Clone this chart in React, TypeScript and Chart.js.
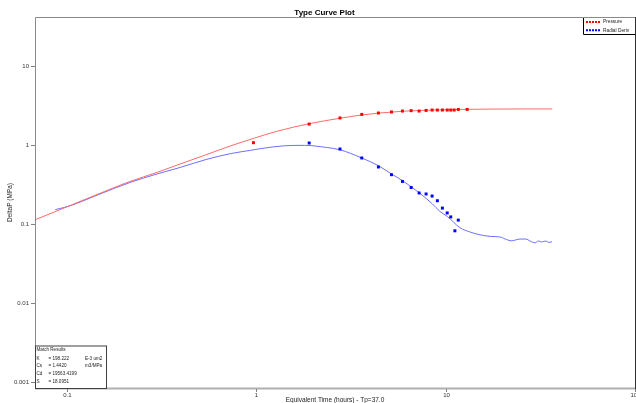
import { useEffect, useRef } from 'react';
import { Chart, registerables } from 'chart.js';

Chart.register(...registerables);

// ---- data ----
const pressureCurveX = [0.068, 0.104, 0.15, 0.216, 0.3, 0.397, 0.55, 0.729, 0.976, 1.3, 1.905, 2.77, 3.61, 4.42, 5.2, 6.0, 7.25, 8.5, 10.2, 13, 18, 25, 36.6];
const pressureCurveY = [0.113, 0.171, 0.245, 0.346, 0.45, 0.575, 0.76, 0.97, 1.22, 1.5, 1.86, 2.18, 2.4, 2.53, 2.61, 2.68, 2.73, 2.77, 2.8, 2.83, 2.85, 2.86, 2.86];

const derivCurveX = [0.087, 0.104, 0.15, 0.216, 0.3, 0.397, 0.55, 0.729, 0.93, 1.05, 1.39, 1.8, 2.36, 2.77, 3.61, 4.42, 5.18, 5.92, 7.25, 8.49, 9.34, 10.2, 11.9, 13.5, 15.2, 17.2, 19.4, 21.0, 22.3, 24.7, 26.6, 27.9, 29.7, 30.9, 32.2, 33.8, 35.1, 36.5];
const derivCurveY = [0.152, 0.17, 0.24, 0.336, 0.43, 0.52, 0.66, 0.776, 0.855, 0.898, 0.975, 0.99, 0.93, 0.87, 0.685, 0.547, 0.43, 0.354, 0.249, 0.181, 0.144, 0.125, 0.09, 0.079, 0.073, 0.0697, 0.0685, 0.0635, 0.0613, 0.0645, 0.0645, 0.0609, 0.0579, 0.061, 0.0592, 0.061, 0.0585, 0.0597];

const pressureDataX = [0.968, 1.905, 2.77, 3.61, 4.42, 5.18, 5.92, 6.58, 7.25, 7.89, 8.49, 9.05, 9.62, 10.2, 10.65, 11.1, 11.67, 13.0];
const pressureDataY = [1.07, 1.84, 2.2, 2.44, 2.54, 2.62, 2.69, 2.72, 2.69, 2.74, 2.77, 2.77, 2.77, 2.77, 2.77, 2.77, 2.82, 2.82];

const derivDataX = [1.905, 2.77, 3.61, 4.42, 5.18, 5.92, 6.58, 7.25, 7.89, 8.49, 9.05, 9.62, 10.2, 10.65, 11.67, 11.2];
const derivDataY = [1.06, 0.89, 0.685, 0.527, 0.421, 0.346, 0.29, 0.247, 0.24, 0.226, 0.197, 0.159, 0.138, 0.123, 0.112, 0.082];

const xTickValues = [0.1, 1, 10, 100];
const xTickLabels = ['0.1', '1', '10', '100'];
const yTickValues = [0.001, 0.01, 0.1, 1, 10];
const yTickLabels = ['0.001', '0.01', '0.1', '1', '10'];

const titleText = 'Type Curve Plot';
const xTitle = 'Equivalent Time (hours) - Tp=37.0';
const yTitle = 'DeltaP (MPa)';
const legendLabels = ['Pressure', 'Radial Deriv'];
const legendColors = ['#ff0000', '#0000ff'];
const matchTitle = 'Match Results';
const matchNames = ['K', 'Cs', 'Cd', 'S'];
const matchValues = ['= 198.222', '= 1.4420', '= 19563.4199', '= 18.0951'];
const matchUnits = ['E-3 um2', 'm3/MPa', '', ''];

const FONT = '"Liberation Sans", Arial, sans-serif';

const toXY = (xs: number[], ys: number[]) => xs.map((x, i) => ({ x, y: ys[i] }));

const decorPlugin = {
  id: 'decor',
  afterDraw(chart: any) {
    const { ctx, chartArea: a, scales } = chart;
    const xs = scales.x;
    const ys = scales.y;
    ctx.save();

    // frame
    ctx.lineWidth = 1;
    ctx.strokeStyle = '#8a8a8a';
    ctx.beginPath();
    ctx.moveTo(a.left + 0.5, a.bottom);
    ctx.lineTo(a.left + 0.5, a.top + 0.5);
    ctx.lineTo(a.right, a.top + 0.5);
    ctx.stroke();
    ctx.strokeStyle = '#b0b0b0';
    ctx.lineWidth = 2;
    ctx.beginPath();
    ctx.moveTo(a.left, a.bottom + 0.5);
    ctx.lineTo(a.right, a.bottom + 0.5);
    ctx.stroke();
    ctx.strokeStyle = '#303030';
    ctx.lineWidth = 1;
    ctx.beginPath();
    ctx.moveTo(a.right + 0.5, a.top);
    ctx.lineTo(a.right + 0.5, a.bottom + 2);
    ctx.stroke();

    // y ticks
    ctx.strokeStyle = '#808080';
    ctx.fillStyle = '#333333';
    ctx.font = `6px ${FONT}`;
    ctx.textAlign = 'right';
    ctx.textBaseline = 'middle';
    yTickValues.forEach((v, i) => {
      const py = Math.round(ys.getPixelForValue(v)) + 0.5;
      ctx.beginPath();
      ctx.moveTo(a.left - 4, py);
      ctx.lineTo(a.left, py);
      ctx.stroke();
      ctx.fillText(yTickLabels[i], a.left - 6, py);
    });
    // x ticks
    ctx.textAlign = 'center';
    xTickValues.forEach((v, i) => {
      const px = Math.round(xs.getPixelForValue(v)) + 0.5;
      ctx.beginPath();
      ctx.moveTo(px, a.bottom + 1);
      ctx.lineTo(px, a.bottom + 4);
      ctx.stroke();
      ctx.fillText(xTickLabels[i], px, a.bottom + 7);
    });

    // axis titles
    ctx.fillStyle = '#222222';
    ctx.font = `6.5px ${FONT}`;
    ctx.fillText(xTitle, (a.left + a.right) / 2, a.bottom + 12);
    ctx.save();
    ctx.translate(10, 202.5);
    ctx.rotate(-Math.PI / 2);
    ctx.fillText(yTitle, 0, 0);
    ctx.restore();

    // title
    ctx.fillStyle = '#000000';
    ctx.font = `bold 8px ${FONT}`;
    ctx.fillText(titleText, 324.5, 13);

    // legend box
    const lx = 583;
    const ly = a.top + 1;
    ctx.fillStyle = '#ffffff';
    ctx.fillRect(lx, ly, a.right - lx, 16.5);
    ctx.strokeStyle = '#000000';
    ctx.lineWidth = 1;
    ctx.beginPath();
    ctx.moveTo(lx + 0.5, ly);
    ctx.lineTo(lx + 0.5, ly + 16.5);
    ctx.lineTo(a.right, ly + 16.5);
    ctx.stroke();
    ctx.font = `4.8px ${FONT}`;
    ctx.textAlign = 'left';
    legendLabels.forEach((lab, i) => {
      const yy = ly + 4 + i * 8.3;
      ctx.strokeStyle = legendColors[i];
      ctx.lineWidth = 2;
      ctx.setLineDash([2, 1]);
      ctx.beginPath();
      ctx.moveTo(586, yy);
      ctx.lineTo(601, yy);
      ctx.stroke();
      ctx.setLineDash([]);
      ctx.fillStyle = '#222222';
      ctx.fillText(lab, 603, yy);
    });

    // match results box
    const bx = a.left;
    const by = 345.5;
    const bw = 71;
    const bh = a.bottom - by;
    ctx.fillStyle = '#ffffff';
    ctx.fillRect(bx + 1, by, bw, bh);
    ctx.strokeStyle = '#404040';
    ctx.lineWidth = 1;
    ctx.strokeRect(bx + 0.5, by + 0.5, bw, bh);
    ctx.fillStyle = '#222222';
    ctx.font = `4.6px ${FONT}`;
    ctx.fillText(matchTitle, bx + 1.5, by + 4.5);
    matchNames.forEach((n, i) => {
      const yy = by + 12.8 + i * 7.9;
      ctx.fillText(n, bx + 1.5, yy);
      ctx.fillText(matchValues[i], bx + 13.5, yy);
      if (matchUnits[i]) ctx.fillText(matchUnits[i], bx + 50, yy);
    });

    ctx.restore();
  },
};

export default function App() {
  const ref = useRef<HTMLCanvasElement | null>(null);
  useEffect(() => {
    document.body.style.margin = '0';
    const canvas = ref.current;
    if (!canvas) return;
    const chart = new Chart(canvas, {
      type: 'scatter',
      data: {
        datasets: [
          {
            label: 'Pressure data',
            data: toXY(pressureDataX, pressureDataY),
            showLine: false,
            pointStyle: 'rect',
            pointRadius: 2.1,
            pointBorderWidth: 0,
            backgroundColor: '#ff0000',
            borderColor: '#ff0000',
          },
          {
            label: 'Deriv data',
            data: toXY(derivDataX, derivDataY),
            showLine: false,
            pointStyle: 'rect',
            pointRadius: 2.1,
            pointBorderWidth: 0,
            backgroundColor: '#0000ff',
            borderColor: '#0000ff',
          },
          {
            label: 'Pressure',
            data: toXY(pressureCurveX, pressureCurveY),
            showLine: true,
            pointRadius: 0,
            borderWidth: 1,
            borderColor: '#ff6a6a',
            cubicInterpolationMode: 'monotone',
          },
          {
            label: 'Radial Deriv',
            data: toXY(derivCurveX, derivCurveY),
            showLine: true,
            pointRadius: 0,
            borderWidth: 1,
            borderColor: '#6f6fff',
            cubicInterpolationMode: 'monotone',
          },
        ],
      } as any,
      options: {
        animation: false,
        responsive: false,
        events: [],
        layout: { autoPadding: false, padding: { left: 35, top: 17, right: 1, bottom: 15 } },
        plugins: {
          legend: { display: false },
          title: { display: false },
          tooltip: { enabled: false },
        },
        scales: {
          x: { type: 'logarithmic', min: 0.068, max: 100, display: false },
          y: { type: 'logarithmic', min: 0.00084, max: 41.7, display: false },
        },
      } as any,
      plugins: [decorPlugin],
    });
    return () => chart.destroy();
  }, []);
  return <canvas ref={ref} width={636} height={403} style={{ display: 'block' }} />;
}
